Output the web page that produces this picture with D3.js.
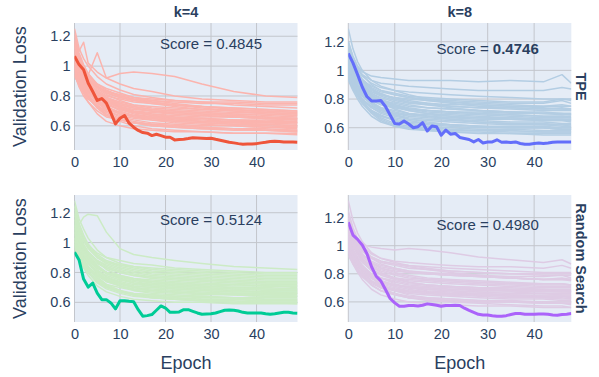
<!DOCTYPE html>
<html>
<head>
<meta charset="utf-8">
<script src="https://cdn.jsdelivr.net/npm/d3@7/dist/d3.min.js"></script>
<style>
  body { margin: 0; background: #fff; }
  text { font-family: "Liberation Sans", Arial, sans-serif; fill: #2a3f5f; }
</style>
</head>
<body>
<svg id="chart" width="599" height="377"></svg>
<script>
/*
** Data
*/
var columnTitles = ["k=4", "k=8"]
  , rowTitles = ["TPE", "Random Search"]
  , xTicks = [0, 10, 20, 30, 40]
  , yTicks = [0.6, 0.8, 1, 1.2]
  , scores = [["0.4845", "0.4746"], ["0.5124", "0.4980"]]
  , bestScore = [0, 1]   // row, col of the bold score
  , runEpochsK4 = [0, 1, 2, 3, 5, 7, 10, 13, 17, 22, 28, 35, 42, 49]
  , runEpochsK8 = [0, 1, 2, 3, 5, 7, 10, 13, 17, 22, 28, 35, 42, 46, 48]
;
// best run, one value per epoch
var bestTpeK4 = [1.066, 1.01, 0.976, 0.887, 0.83, 0.77, 0.783, 0.752, 0.685, 0.613,
    0.651, 0.669, 0.618, 0.591, 0.569, 0.555, 0.551, 0.535, 0.544, 0.535,
    0.524, 0.524, 0.506, 0.508, 0.51, 0.515, 0.521, 0.519, 0.517, 0.515,
    0.517, 0.51, 0.504, 0.497, 0.49, 0.486, 0.481, 0.477, 0.479, 0.479,
    0.481, 0.486, 0.49, 0.495, 0.497, 0.495, 0.492, 0.492, 0.492, 0.49];
var bestTpeK8 = [1.118, 1.052, 0.97, 0.884, 0.818, 0.787, 0.787, 0.79, 0.748, 0.689,
    0.63, 0.626, 0.647, 0.626, 0.6, 0.607, 0.635, 0.577, 0.612, 0.607,
    0.548, 0.584, 0.555, 0.56, 0.532, 0.525, 0.518, 0.501, 0.518, 0.494,
    0.501, 0.501, 0.516, 0.499, 0.501, 0.497, 0.501, 0.49, 0.485, 0.485,
    0.49, 0.494, 0.49, 0.494, 0.499, 0.501, 0.501, 0.501, 0.501];
var bestRandK4 = [0.936, 0.884, 0.756, 0.702, 0.729, 0.662, 0.618, 0.618, 0.596, 0.556,
    0.611, 0.611, 0.607, 0.604, 0.551, 0.507, 0.511, 0.518, 0.547, 0.576,
    0.562, 0.533, 0.533, 0.536, 0.551, 0.551, 0.54, 0.529, 0.52, 0.522,
    0.524, 0.529, 0.538, 0.547, 0.549, 0.547, 0.542, 0.533, 0.529, 0.529,
    0.529, 0.529, 0.524, 0.52, 0.524, 0.529, 0.533, 0.533, 0.529, 0.527];
var bestRandK8 = [1.167, 1.076, 1.045, 1.005, 0.945, 0.85, 0.783, 0.75, 0.688, 0.624,
    0.593, 0.569, 0.569, 0.574, 0.574, 0.571, 0.576, 0.586, 0.581, 0.576,
    0.569, 0.574, 0.574, 0.576, 0.574, 0.555, 0.54, 0.526, 0.512, 0.507,
    0.507, 0.502, 0.498, 0.498, 0.502, 0.51, 0.517, 0.517, 0.512, 0.512,
    0.512, 0.514, 0.514, 0.512, 0.507, 0.505, 0.51, 0.512, 0.517];

// other runs, values at runEpochsK4 / runEpochsK8
var runsTpeK4 = [
    [1.25, 1.12, 1.05, 1.00, 0.93, 0.88, 0.84, 0.81, 0.79, 0.77, 0.76, 0.74, 0.73, 0.72],
    [1.20, 1.10, 1.16, 1.02, 0.96, 0.92, 0.95, 0.96, 0.95, 0.93, 0.88, 0.83, 0.80, 0.79],
    [1.15, 1.05, 0.98, 0.94, 1.09, 0.92, 0.88, 0.85, 0.83, 0.80, 0.78, 0.77, 0.76, 0.76],
    [1.10, 1.00, 0.93, 0.88, 0.83, 0.79, 0.75, 0.73, 0.71, 0.70, 0.69, 0.68, 0.67, 0.66],
    [1.05, 0.96, 0.90, 0.85, 0.78, 0.73, 0.69, 0.66, 0.64, 0.62, 0.61, 0.60, 0.59, 0.58],
    [1.02, 0.92, 0.85, 0.80, 0.72, 0.67, 0.63, 0.60, 0.58, 0.57, 0.56, 0.55, 0.55, 0.54],
    [0.98, 0.90, 0.86, 0.83, 0.80, 0.77, 0.74, 0.72, 0.70, 0.69, 0.68, 0.67, 0.66, 0.65],
    [1.12, 1.02, 0.97, 0.93, 0.88, 0.85, 0.82, 0.79, 0.77, 0.75, 0.73, 0.72, 0.71, 0.70],
    [0.95, 0.86, 0.80, 0.76, 0.70, 0.66, 0.64, 0.62, 0.61, 0.60, 0.59, 0.58, 0.57, 0.57],
    [1.08, 0.99, 0.92, 0.87, 0.81, 0.77, 0.73, 0.70, 0.68, 0.66, 0.65, 0.64, 0.63, 0.62],
    [1.18, 1.06, 0.99, 0.94, 0.86, 0.82, 0.79, 0.77, 0.76, 0.74, 0.73, 0.72, 0.71, 0.70],
    [1.00, 0.93, 0.88, 0.83, 0.76, 0.70, 0.66, 0.64, 0.62, 0.61, 0.60, 0.60, 0.59, 0.59],
    [0.93, 0.88, 0.84, 0.80, 0.75, 0.71, 0.68, 0.67, 0.66, 0.65, 0.64, 0.63, 0.63, 0.62],
    [1.06, 0.97, 0.91, 0.86, 0.80, 0.76, 0.72, 0.69, 0.67, 0.65, 0.63, 0.62, 0.61, 0.60],
    [1.14, 1.04, 0.96, 0.91, 0.84, 0.80, 0.78, 0.76, 0.75, 0.74, 0.73, 0.71, 0.69, 0.68],
    [0.97, 0.89, 0.82, 0.76, 0.68, 0.63, 0.60, 0.58, 0.57, 0.56, 0.56, 0.55, 0.55, 0.55],
    [1.03, 0.95, 0.89, 0.85, 0.79, 0.75, 0.71, 0.68, 0.66, 0.64, 0.63, 0.62, 0.62, 0.61],
    [1.09, 1.01, 0.95, 0.91, 0.86, 0.83, 0.80, 0.78, 0.76, 0.74, 0.72, 0.70, 0.68, 0.67],
    [0.99, 0.91, 0.86, 0.81, 0.74, 0.69, 0.65, 0.63, 0.61, 0.60, 0.59, 0.58, 0.58, 0.57],
    [1.16, 1.07, 1.00, 0.95, 0.88, 0.84, 0.80, 0.78, 0.77, 0.76, 0.75, 0.75, 0.74, 0.74],
    [1.01, 0.94, 0.89, 0.86, 0.82, 0.78, 0.75, 0.73, 0.71, 0.70, 0.69, 0.68, 0.68, 0.67],
    [1.07, 0.97, 0.90, 0.84, 0.77, 0.72, 0.68, 0.66, 0.65, 0.64, 0.63, 0.63, 0.62, 0.62],
    [1.13, 1.03, 0.96, 0.90, 0.82, 0.77, 0.72, 0.69, 0.67, 0.66, 0.65, 0.64, 0.64, 0.63],
    [1.04, 0.95, 0.88, 0.83, 0.76, 0.72, 0.69, 0.67, 0.66, 0.65, 0.65, 0.64, 0.63, 0.63],
    [1.17, 1.05, 0.97, 0.92, 0.85, 0.81, 0.77, 0.74, 0.72, 0.71, 0.70, 0.69, 0.69, 0.68],
    [0.96, 0.89, 0.83, 0.79, 0.73, 0.68, 0.64, 0.62, 0.60, 0.59, 0.58, 0.58, 0.57, 0.56],
    [1.11, 1.01, 0.94, 0.89, 0.83, 0.79, 0.76, 0.74, 0.73, 0.72, 0.71, 0.71, 0.70, 0.69],
    [1.00, 0.92, 0.86, 0.82, 0.77, 0.74, 0.71, 0.69, 0.68, 0.67, 0.66, 0.66, 0.65, 0.64],
    [1.22, 1.09, 1.01, 0.95, 0.87, 0.83, 0.81, 0.79, 0.78, 0.77, 0.76, 0.76, 0.75, 0.75],
    [1.06, 0.98, 0.92, 0.87, 0.80, 0.75, 0.70, 0.67, 0.65, 0.63, 0.62, 0.61, 0.60, 0.59],
    [0.94, 0.87, 0.82, 0.78, 0.73, 0.70, 0.67, 0.65, 0.64, 0.63, 0.62, 0.61, 0.61, 0.60],
    [1.09, 0.99, 0.93, 0.88, 0.82, 0.78, 0.74, 0.72, 0.70, 0.69, 0.68, 0.67, 0.66, 0.65],
    [1.02, 0.94, 0.88, 0.84, 0.79, 0.76, 0.73, 0.71, 0.70, 0.68, 0.67, 0.66, 0.65, 0.65],
    [1.15, 1.04, 0.97, 0.92, 0.86, 0.82, 0.79, 0.77, 0.75, 0.73, 0.71, 0.70, 0.70, 0.69],
    [0.99, 0.90, 0.84, 0.79, 0.72, 0.67, 0.64, 0.62, 0.60, 0.59, 0.58, 0.57, 0.57, 0.56],
    [1.07, 0.98, 0.91, 0.86, 0.80, 0.76, 0.72, 0.70, 0.69, 0.68, 0.67, 0.66, 0.65, 0.64]
];
var runsTpeK8 = [
    [1.29, 1.15, 1.06, 1.00, 0.93, 0.89, 0.86, 0.83, 0.80, 0.78, 0.76, 0.75, 0.74, 0.73, 0.73],
    [1.20, 1.10, 1.03, 0.99, 0.96, 0.95, 0.94, 0.93, 0.93, 0.93, 0.92, 0.93, 0.92, 0.97, 0.91],
    [1.14, 1.05, 1.00, 0.97, 0.93, 0.91, 0.90, 0.89, 0.88, 0.87, 0.86, 0.86, 0.86, 0.88, 0.87],
    [1.08, 0.98, 0.92, 0.87, 0.81, 0.77, 0.73, 0.70, 0.68, 0.66, 0.64, 0.63, 0.62, 0.62, 0.61],
    [1.02, 0.92, 0.85, 0.79, 0.71, 0.66, 0.62, 0.60, 0.58, 0.57, 0.56, 0.56, 0.55, 0.55, 0.55],
    [0.96, 0.88, 0.82, 0.77, 0.70, 0.65, 0.61, 0.59, 0.58, 0.57, 0.57, 0.56, 0.56, 0.56, 0.56],
    [1.10, 1.01, 0.96, 0.92, 0.87, 0.84, 0.80, 0.78, 0.76, 0.74, 0.72, 0.71, 0.70, 0.70, 0.69],
    [1.05, 0.97, 0.92, 0.88, 0.84, 0.81, 0.78, 0.76, 0.74, 0.73, 0.72, 0.71, 0.70, 0.69, 0.69],
    [0.93, 0.86, 0.80, 0.75, 0.68, 0.64, 0.61, 0.60, 0.59, 0.58, 0.58, 0.57, 0.57, 0.57, 0.57],
    [1.16, 1.06, 0.99, 0.94, 0.88, 0.85, 0.83, 0.81, 0.80, 0.79, 0.78, 0.77, 0.77, 0.79, 0.77],
    [1.00, 0.91, 0.85, 0.80, 0.74, 0.70, 0.67, 0.65, 0.63, 0.62, 0.61, 0.60, 0.60, 0.59, 0.59],
    [1.12, 1.03, 0.97, 0.93, 0.89, 0.86, 0.84, 0.82, 0.81, 0.80, 0.79, 0.78, 0.78, 0.80, 0.79],
    [1.06, 0.96, 0.89, 0.84, 0.77, 0.73, 0.70, 0.68, 0.67, 0.66, 0.65, 0.64, 0.64, 0.63, 0.63],
    [0.98, 0.90, 0.84, 0.80, 0.75, 0.72, 0.70, 0.69, 0.68, 0.67, 0.66, 0.66, 0.65, 0.65, 0.65],
    [1.18, 1.08, 1.01, 0.96, 0.91, 0.88, 0.86, 0.85, 0.84, 0.83, 0.82, 0.81, 0.80, 0.80, 0.80],
    [1.03, 0.94, 0.88, 0.83, 0.77, 0.73, 0.69, 0.66, 0.64, 0.62, 0.61, 0.60, 0.60, 0.59, 0.59],
    [1.09, 0.99, 0.93, 0.89, 0.84, 0.80, 0.76, 0.73, 0.71, 0.70, 0.69, 0.68, 0.67, 0.67, 0.67],
    [0.95, 0.87, 0.82, 0.78, 0.72, 0.68, 0.66, 0.64, 0.63, 0.62, 0.61, 0.61, 0.61, 0.60, 0.60],
    [1.13, 1.02, 0.95, 0.90, 0.83, 0.79, 0.75, 0.72, 0.70, 0.69, 0.68, 0.67, 0.66, 0.66, 0.65],
    [1.01, 0.93, 0.88, 0.84, 0.79, 0.76, 0.74, 0.73, 0.72, 0.71, 0.71, 0.70, 0.70, 0.70, 0.70],
    [1.07, 0.98, 0.93, 0.89, 0.85, 0.83, 0.81, 0.79, 0.77, 0.75, 0.74, 0.73, 0.72, 0.72, 0.72],
    [0.99, 0.89, 0.83, 0.78, 0.72, 0.69, 0.65, 0.62, 0.61, 0.60, 0.59, 0.59, 0.58, 0.58, 0.58],
    [1.11, 1.01, 0.94, 0.89, 0.82, 0.78, 0.74, 0.72, 0.70, 0.68, 0.67, 0.66, 0.65, 0.65, 0.64],
    [1.04, 0.95, 0.89, 0.85, 0.80, 0.77, 0.75, 0.73, 0.72, 0.71, 0.70, 0.69, 0.68, 0.68, 0.68],
    [1.20, 1.09, 1.02, 0.97, 0.90, 0.86, 0.83, 0.81, 0.79, 0.77, 0.75, 0.74, 0.73, 0.73, 0.72],
    [0.97, 0.89, 0.83, 0.78, 0.71, 0.67, 0.63, 0.61, 0.60, 0.59, 0.58, 0.58, 0.57, 0.57, 0.57],
    [1.08, 1.00, 0.94, 0.90, 0.85, 0.82, 0.79, 0.77, 0.76, 0.75, 0.74, 0.74, 0.73, 0.74, 0.73],
    [1.02, 0.93, 0.87, 0.82, 0.76, 0.72, 0.69, 0.67, 0.66, 0.65, 0.64, 0.63, 0.63, 0.62, 0.62],
    [1.15, 1.05, 0.98, 0.93, 0.87, 0.83, 0.80, 0.78, 0.77, 0.76, 0.76, 0.75, 0.75, 0.76, 0.75],
    [0.94, 0.88, 0.83, 0.79, 0.74, 0.71, 0.68, 0.66, 0.65, 0.64, 0.63, 0.62, 0.62, 0.61, 0.61],
    [1.10, 1.00, 0.93, 0.88, 0.82, 0.79, 0.77, 0.75, 0.74, 0.73, 0.72, 0.71, 0.71, 0.70, 0.70],
    [1.06, 0.97, 0.90, 0.85, 0.78, 0.74, 0.71, 0.69, 0.68, 0.67, 0.67, 0.66, 0.66, 0.66, 0.66],
    [1.00, 0.91, 0.86, 0.82, 0.77, 0.74, 0.72, 0.70, 0.69, 0.68, 0.67, 0.67, 0.66, 0.66, 0.66],
    [1.13, 1.03, 0.96, 0.91, 0.86, 0.83, 0.81, 0.80, 0.79, 0.78, 0.77, 0.76, 0.75, 0.75, 0.75],
    [0.96, 0.88, 0.82, 0.77, 0.71, 0.68, 0.65, 0.63, 0.62, 0.61, 0.60, 0.60, 0.60, 0.59, 0.59],
    [1.05, 0.96, 0.90, 0.86, 0.81, 0.78, 0.76, 0.74, 0.72, 0.71, 0.70, 0.69, 0.68, 0.68, 0.67]
];
var runsRandK4 = [
    [1.28, 1.16, 1.09, 1.03, 0.95, 0.90, 0.86, 0.84, 0.82, 0.81, 0.80, 0.79, 0.78, 0.78],
    [1.15, 1.12, 1.17, 1.19, 1.18, 1.07, 0.96, 0.92, 0.90, 0.88, 0.86, 0.84, 0.83, 0.82],
    [1.22, 1.10, 1.02, 0.97, 0.90, 0.86, 0.83, 0.81, 0.79, 0.78, 0.77, 0.76, 0.75, 0.75],
    [1.10, 1.00, 0.94, 0.89, 0.82, 0.77, 0.73, 0.70, 0.68, 0.67, 0.66, 0.65, 0.64, 0.64],
    [1.04, 0.95, 0.89, 0.84, 0.77, 0.72, 0.68, 0.65, 0.63, 0.62, 0.61, 0.60, 0.60, 0.59],
    [1.18, 1.06, 0.99, 0.94, 0.88, 0.84, 0.81, 0.79, 0.77, 0.76, 0.75, 0.74, 0.73, 0.73],
    [1.00, 0.93, 0.88, 0.84, 0.78, 0.74, 0.71, 0.69, 0.68, 0.67, 0.66, 0.65, 0.65, 0.64],
    [1.12, 1.03, 0.97, 0.93, 0.88, 0.85, 0.82, 0.80, 0.78, 0.77, 0.76, 0.75, 0.74, 0.74],
    [0.97, 0.89, 0.83, 0.78, 0.71, 0.67, 0.64, 0.62, 0.61, 0.60, 0.60, 0.59, 0.59, 0.59],
    [1.07, 0.98, 0.92, 0.88, 0.83, 0.80, 0.78, 0.76, 0.75, 0.74, 0.73, 0.72, 0.71, 0.71],
    [1.25, 1.13, 1.05, 0.99, 0.92, 0.88, 0.85, 0.83, 0.81, 0.80, 0.79, 0.78, 0.77, 0.77],
    [1.02, 0.94, 0.88, 0.83, 0.76, 0.71, 0.67, 0.65, 0.64, 0.63, 0.62, 0.62, 0.61, 0.61],
    [1.14, 1.04, 0.97, 0.92, 0.85, 0.80, 0.76, 0.73, 0.71, 0.70, 0.69, 0.68, 0.67, 0.67],
    [0.95, 0.90, 0.86, 0.82, 0.76, 0.72, 0.70, 0.68, 0.67, 0.66, 0.65, 0.65, 0.64, 0.64],
    [1.20, 1.09, 1.02, 0.98, 0.93, 0.90, 0.88, 0.86, 0.85, 0.83, 0.82, 0.81, 0.80, 0.80],
    [1.05, 0.97, 0.91, 0.86, 0.79, 0.75, 0.72, 0.70, 0.69, 0.68, 0.67, 0.66, 0.66, 0.66],
    [1.09, 0.99, 0.92, 0.87, 0.80, 0.75, 0.71, 0.68, 0.66, 0.65, 0.64, 0.63, 0.62, 0.62],
    [0.99, 0.91, 0.85, 0.80, 0.73, 0.69, 0.66, 0.64, 0.63, 0.62, 0.61, 0.60, 0.60, 0.60],
    [1.16, 1.05, 0.98, 0.93, 0.87, 0.83, 0.80, 0.78, 0.76, 0.75, 0.74, 0.73, 0.72, 0.72],
    [1.03, 0.95, 0.90, 0.86, 0.81, 0.78, 0.75, 0.73, 0.72, 0.71, 0.70, 0.69, 0.69, 0.68],
    [1.11, 1.01, 0.95, 0.90, 0.84, 0.80, 0.77, 0.75, 0.73, 0.72, 0.71, 0.70, 0.70, 0.69],
    [1.01, 0.92, 0.86, 0.81, 0.74, 0.70, 0.67, 0.66, 0.65, 0.64, 0.63, 0.63, 0.62, 0.62],
    [1.13, 1.03, 0.96, 0.91, 0.84, 0.80, 0.77, 0.75, 0.73, 0.72, 0.71, 0.70, 0.69, 0.69],
    [1.06, 0.97, 0.91, 0.87, 0.81, 0.77, 0.74, 0.72, 0.71, 0.70, 0.69, 0.68, 0.67, 0.67],
    [1.19, 1.08, 1.01, 0.96, 0.90, 0.87, 0.84, 0.82, 0.80, 0.79, 0.78, 0.77, 0.76, 0.76],
    [0.98, 0.90, 0.84, 0.80, 0.74, 0.70, 0.67, 0.65, 0.64, 0.63, 0.62, 0.62, 0.61, 0.61],
    [1.10, 1.01, 0.95, 0.91, 0.86, 0.83, 0.80, 0.78, 0.77, 0.76, 0.75, 0.74, 0.73, 0.73],
    [1.03, 0.94, 0.88, 0.84, 0.78, 0.74, 0.71, 0.69, 0.68, 0.67, 0.66, 0.66, 0.65, 0.65],
    [1.24, 1.12, 1.04, 0.98, 0.91, 0.87, 0.85, 0.84, 0.83, 0.82, 0.81, 0.80, 0.79, 0.79],
    [1.08, 0.99, 0.92, 0.87, 0.80, 0.76, 0.73, 0.71, 0.70, 0.69, 0.68, 0.67, 0.67, 0.66],
    [0.96, 0.89, 0.84, 0.80, 0.75, 0.71, 0.68, 0.66, 0.65, 0.64, 0.64, 0.63, 0.63, 0.63],
    [1.15, 1.05, 0.98, 0.93, 0.87, 0.82, 0.78, 0.76, 0.74, 0.73, 0.72, 0.71, 0.71, 0.70],
    [1.01, 0.93, 0.87, 0.83, 0.78, 0.75, 0.73, 0.71, 0.70, 0.69, 0.68, 0.67, 0.67, 0.66],
    [1.12, 1.02, 0.95, 0.90, 0.83, 0.79, 0.76, 0.74, 0.72, 0.71, 0.70, 0.69, 0.68, 0.68],
    [0.99, 0.91, 0.85, 0.80, 0.74, 0.70, 0.67, 0.65, 0.63, 0.62, 0.61, 0.61, 0.60, 0.60],
    [1.07, 0.98, 0.92, 0.88, 0.83, 0.80, 0.77, 0.75, 0.74, 0.73, 0.72, 0.72, 0.71, 0.71]
];
var runsRandK8 = [
    [1.32, 1.18, 1.09, 1.03, 0.95, 0.91, 0.88, 0.86, 0.84, 0.82, 0.81, 0.80, 0.79, 0.79, 0.79],
    [1.20, 1.10, 1.04, 1.01, 0.99, 0.98, 0.97, 0.98, 0.97, 0.95, 0.92, 0.90, 0.88, 0.90, 0.87],
    [1.25, 1.13, 1.05, 1.00, 0.94, 0.91, 0.89, 0.88, 0.87, 0.86, 0.85, 0.85, 0.84, 0.86, 0.84],
    [1.10, 1.00, 0.94, 0.89, 0.82, 0.77, 0.73, 0.70, 0.68, 0.67, 0.66, 0.65, 0.64, 0.64, 0.63],
    [1.04, 0.95, 0.88, 0.83, 0.75, 0.70, 0.66, 0.63, 0.61, 0.60, 0.59, 0.58, 0.57, 0.57, 0.56],
    [0.95, 0.87, 0.81, 0.76, 0.69, 0.65, 0.62, 0.60, 0.59, 0.58, 0.57, 0.57, 0.56, 0.56, 0.56],
    [1.15, 1.05, 0.98, 0.94, 0.88, 0.84, 0.81, 0.79, 0.77, 0.76, 0.75, 0.74, 0.73, 0.73, 0.72],
    [1.06, 0.97, 0.92, 0.88, 0.83, 0.80, 0.77, 0.75, 0.74, 0.73, 0.72, 0.71, 0.70, 0.70, 0.70],
    [0.98, 0.90, 0.84, 0.79, 0.72, 0.68, 0.65, 0.63, 0.62, 0.61, 0.60, 0.60, 0.59, 0.59, 0.59],
    [1.12, 1.03, 0.97, 0.93, 0.89, 0.86, 0.84, 0.82, 0.81, 0.80, 0.79, 0.78, 0.78, 0.79, 0.77],
    [1.01, 0.92, 0.86, 0.81, 0.75, 0.71, 0.68, 0.66, 0.65, 0.64, 0.63, 0.62, 0.62, 0.61, 0.61],
    [1.18, 1.08, 1.01, 0.96, 0.91, 0.88, 0.86, 0.84, 0.83, 0.82, 0.81, 0.80, 0.80, 0.80, 0.80],
    [1.08, 0.98, 0.91, 0.86, 0.79, 0.75, 0.72, 0.70, 0.69, 0.68, 0.67, 0.66, 0.66, 0.65, 0.65],
    [0.93, 0.87, 0.82, 0.78, 0.73, 0.70, 0.68, 0.67, 0.66, 0.65, 0.65, 0.64, 0.64, 0.64, 0.63],
    [1.22, 1.11, 1.03, 0.98, 0.92, 0.89, 0.87, 0.86, 0.85, 0.84, 0.83, 0.82, 0.81, 0.81, 0.81],
    [1.03, 0.94, 0.88, 0.84, 0.78, 0.74, 0.71, 0.69, 0.67, 0.66, 0.65, 0.64, 0.63, 0.63, 0.62],
    [1.14, 1.03, 0.96, 0.91, 0.85, 0.81, 0.77, 0.74, 0.72, 0.71, 0.70, 0.69, 0.68, 0.68, 0.68],
    [0.97, 0.89, 0.83, 0.79, 0.74, 0.71, 0.69, 0.68, 0.67, 0.66, 0.66, 0.65, 0.65, 0.65, 0.65],
    [1.09, 1.00, 0.94, 0.90, 0.86, 0.83, 0.80, 0.78, 0.76, 0.75, 0.74, 0.73, 0.72, 0.72, 0.72],
    [1.00, 0.92, 0.86, 0.82, 0.77, 0.74, 0.72, 0.71, 0.70, 0.69, 0.69, 0.68, 0.68, 0.68, 0.67],
    [1.06, 0.96, 0.89, 0.84, 0.77, 0.72, 0.68, 0.65, 0.63, 0.62, 0.61, 0.60, 0.60, 0.59, 0.59],
    [1.16, 1.06, 1.00, 0.96, 0.92, 0.89, 0.87, 0.85, 0.83, 0.81, 0.79, 0.77, 0.76, 0.76, 0.76],
    [1.12, 1.02, 0.95, 0.90, 0.83, 0.79, 0.76, 0.74, 0.72, 0.71, 0.70, 0.69, 0.69, 0.68, 0.68],
    [1.05, 0.96, 0.90, 0.86, 0.80, 0.77, 0.74, 0.72, 0.71, 0.70, 0.69, 0.68, 0.68, 0.67, 0.67],
    [1.20, 1.09, 1.02, 0.97, 0.91, 0.87, 0.84, 0.82, 0.80, 0.79, 0.78, 0.77, 0.76, 0.76, 0.76],
    [0.99, 0.90, 0.84, 0.79, 0.72, 0.68, 0.65, 0.63, 0.62, 0.61, 0.60, 0.60, 0.59, 0.59, 0.58],
    [1.09, 1.00, 0.94, 0.90, 0.85, 0.82, 0.79, 0.77, 0.76, 0.75, 0.74, 0.73, 0.73, 0.73, 0.72],
    [1.02, 0.93, 0.87, 0.83, 0.77, 0.73, 0.70, 0.68, 0.67, 0.66, 0.65, 0.65, 0.64, 0.64, 0.64],
    [1.17, 1.06, 0.99, 0.94, 0.88, 0.85, 0.83, 0.81, 0.80, 0.79, 0.78, 0.77, 0.76, 0.77, 0.76],
    [0.96, 0.89, 0.84, 0.80, 0.75, 0.72, 0.69, 0.67, 0.66, 0.65, 0.64, 0.63, 0.63, 0.62, 0.62],
    [1.11, 1.01, 0.94, 0.89, 0.83, 0.80, 0.77, 0.76, 0.75, 0.74, 0.73, 0.72, 0.71, 0.71, 0.71],
    [1.07, 0.97, 0.90, 0.85, 0.79, 0.75, 0.72, 0.70, 0.69, 0.68, 0.67, 0.67, 0.66, 0.66, 0.66],
    [1.01, 0.92, 0.86, 0.82, 0.77, 0.74, 0.72, 0.71, 0.70, 0.69, 0.68, 0.68, 0.67, 0.67, 0.67],
    [1.14, 1.04, 0.97, 0.92, 0.87, 0.84, 0.82, 0.81, 0.80, 0.79, 0.78, 0.77, 0.76, 0.76, 0.75],
    [0.97, 0.88, 0.82, 0.78, 0.72, 0.68, 0.66, 0.64, 0.63, 0.62, 0.61, 0.61, 0.60, 0.60, 0.60],
    [1.04, 0.95, 0.89, 0.85, 0.80, 0.77, 0.75, 0.73, 0.72, 0.71, 0.70, 0.70, 0.69, 0.69, 0.69]
];

/*
** Layout and styles
*/
var colLeft = [74.5, 348.3]
  , rowTop = [23, 195]
  , plotW = 223
  , plotH = 127
  , runColors = [["#fbb4ae", "#b3cde3"], ["#ccebc5", "#decbe4"]]
  , bestColors = [["#ef553b", "#636efa"], ["#00cc96", "#ab63fa"]]
  , gridColor = "#c3c6cc"
  , panels = [
        { row: 0, col: 0, best: bestTpeK4, runs: runsTpeK4, epochs: runEpochsK4 },
        { row: 0, col: 1, best: bestTpeK8, runs: runsTpeK8, epochs: runEpochsK8 },
        { row: 1, col: 0, best: bestRandK4, runs: runsRandK4, epochs: runEpochsK4 },
        { row: 1, col: 1, best: bestRandK8, runs: runsRandK8, epochs: runEpochsK8 }
    ]
;

function LossPanel() {
    var width = plotW
      , height = plotH
      , scale = { x: d3.scaleLinear(), y: d3.scaleLinear() }
      , line = d3.line()
    ;
    function my(selection) {
        var p = selection.datum()
          , runLines = p.runs.map(function(r) {
                return r.map(function(v, i) { return [p.epochs[i], v]; });
            })
          , bestLine = p.best.map(function(v, i) { return [i, v]; })
          , all = d3.merge(runLines.concat([bestLine]))
          , xMax = d3.max(all, function(d) { return d[0]; })
          , yExt = d3.extent(all, function(d) { return d[1]; })
          , pad = (yExt[1] - yExt[0]) * 0.05
        ;
        scale.x.domain([0, xMax]).range([0, width]);
        scale.y.domain([yExt[0] - pad, yExt[1] + pad]).range([height, 0]);
        line.x(function(d) { return scale.x(d[0]); })
            .y(function(d) { return scale.y(d[1]); });

        var clipId = "clip-" + p.row + "-" + p.col;
        selection.append("clipPath").attr("id", clipId)
          .append("rect").attr("width", width).attr("height", height);

        selection.append("rect")
            .attr("width", width).attr("height", height)
            .attr("fill", "#e5ecf6");

        // grid
        selection.append("g").selectAll("line.vx").data(xTicks)
          .enter().append("line")
            .attr("x1", scale.x).attr("x2", scale.x)
            .attr("y1", 0).attr("y2", height)
            .attr("stroke", gridColor).attr("stroke-width", 1);
        selection.append("g").selectAll("line.hy").data(yTicks)
          .enter().append("line")
            .attr("y1", scale.y).attr("y2", scale.y)
            .attr("x1", 0).attr("x2", width)
            .attr("stroke", gridColor).attr("stroke-width", 1);

        var traces = selection.append("g").attr("clip-path", "url(#" + clipId + ")");
        traces.selectAll("path.run").data(runLines)
          .enter().append("path")
            .attr("class", "run")
            .attr("d", line)
            .attr("fill", "none")
            .attr("stroke", runColors[p.row][p.col])
            .attr("stroke-width", 1.5)
            .attr("stroke-linejoin", "round");
        traces.append("path")
            .datum(bestLine)
            .attr("d", line)
            .attr("fill", "none")
            .attr("stroke", bestColors[p.row][p.col])
            .attr("stroke-width", 3)
            .attr("stroke-linejoin", "round");

        // axes
        var xAxis = d3.axisBottom(scale.x).tickValues(xTicks).tickSize(0).tickPadding(7)
          , yAxis = d3.axisLeft(scale.y).tickValues(yTicks).tickSize(0).tickPadding(4)
                .tickFormat(d3.format("~g"))
        ;
        selection.append("g")
            .attr("transform", "translate(0," + height + ")")
            .call(xAxis)
            .call(styleAxis);
        selection.append("g")
            .call(yAxis)
            .call(styleAxis);

        // score annotation
        var label = selection.append("text")
            .attr("x", scale.x(30)).attr("y", scale.y(1.15))
            .attr("dy", "0.35em")
            .attr("text-anchor", "middle")
            .style("font-size", "15px");
        var isBest = bestScore[0] === p.row && bestScore[1] === p.col;
        label.append("tspan").text("Score = ");
        label.append("tspan").text(scores[p.row][p.col])
            .style("font-weight", isBest ? "bold" : "normal");
    } // my()

    function styleAxis(g) {
        g.select(".domain").remove();
        g.selectAll("text")
            .style("font-size", "14.5px")
            .style("font-family", "'Liberation Sans', Arial, sans-serif")
            .attr("fill", "#2a3f5f");
    } // styleAxis()

    return my;
} // LossPanel()

var svg = d3.select("#chart");

panels.forEach(function(p) {
    svg.append("g")
        .attr("transform", "translate(" + colLeft[p.col] + "," + rowTop[p.row] + ")")
        .datum(p)
        .call(LossPanel());
});

// column titles
svg.selectAll("text.coltitle").data(columnTitles)
  .enter().append("text")
    .attr("x", function(d, i) { return colLeft[i] + plotW / 2; })
    .attr("y", 16.5)
    .attr("text-anchor", "middle")
    .style("font-size", "14.5px").style("font-weight", "bold")
    .text(function(d) { return d; });

// row titles, on the right
svg.selectAll("text.rowtitle").data(rowTitles)
  .enter().append("text")
    .attr("transform", function(d, i) {
        return "translate(581," + (rowTop[i] + plotH / 2) + ") rotate(90)";
    })
    .attr("dy", "0.35em")
    .attr("text-anchor", "middle")
    .style("font-size", "14.5px").style("font-weight", "bold")
    .text(function(d) { return d; });

// axis titles
rowTop.forEach(function(t) {
    svg.append("text")
        .attr("transform", "translate(20," + (t + plotH / 2) + ") rotate(-90)")
        .attr("dy", "0.35em")
        .attr("text-anchor", "middle")
        .style("font-size", "18px")
        .text("Validation Loss");
});
colLeft.forEach(function(l) {
    svg.append("text")
        .attr("x", l + plotW / 2).attr("y", 369)
        .attr("text-anchor", "middle")
        .style("font-size", "18px")
        .text("Epoch");
});
</script>
</body>
</html>
